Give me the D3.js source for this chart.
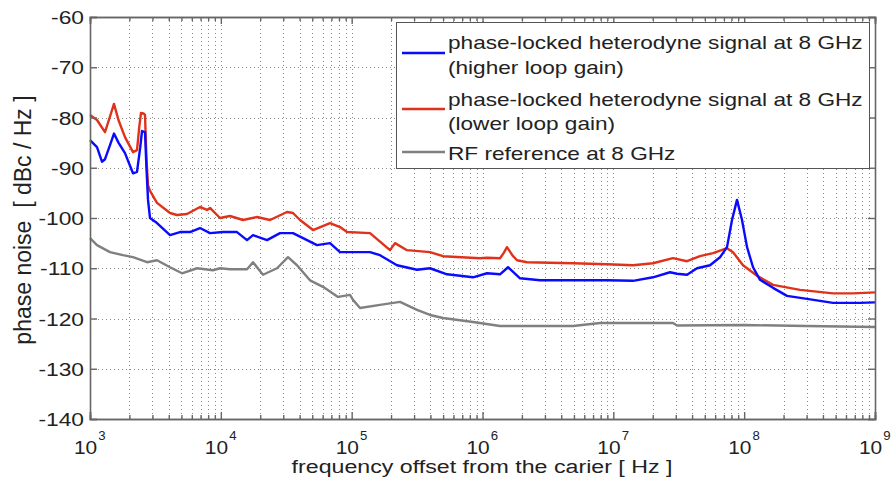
<!DOCTYPE html>
<html>
<head>
<meta charset="utf-8">
<script src="https://cdn.jsdelivr.net/npm/d3@7"></script>
<style>
  body { margin: 0; background: #fff; }
  text { font-family: "Liberation Sans", Arial, sans-serif; fill: #222; }
</style>
</head>
<body>
<div id="chart"></div>
<script>
// plot box inside the 891x483 page
var width = 891,
    height = 483,
    margin = {top: 17, right: 16, bottom: 64, left: 90}
var innerW = width - margin.left - margin.right,
    innerH = height - margin.top - margin.bottom

// values
var freqHigh = [1000, 1131, 1235, 1302, 1422, 1525, 1650, 1851, 2131, 2287, 2420, 2497, 2633, 2700, 2776, 2875, 3252, 4088, 4875, 5811, 6932, 8266, 10390, 13290, 15850, 17620, 22540, 28340, 35610, 42480, 54340, 68320, 81450, 97120, 138100, 164700, 222100, 315800, 397000, 535600, 846300, 1.083e6, 1.361e6, 1.567e6, 1.936e6, 2.752e6, 8.948e6, 1.414e7, 2.011e7, 2.712e7, 3.068e7, 3.658e7, 4.362e7, 5.483e7, 6.539e7, 7.394e7, 8.074e7, 8.816e7, 9.627e7, 1.052e8, 1.169e8, 1.322e8, 1.662e8, 2.126e8, 3.023e8, 4.777e8, 7.681e8, 1e9]
var noiseHigh = [-84.5, -85.9, -88.8, -88.3, -85.5, -83.2, -85, -87.1, -91.1, -90.8, -86, -82.7, -82.9, -90, -96.4, -100, -101, -103.4, -102.8, -102.8, -102, -103, -102.8, -102.8, -104.4, -103.4, -104.4, -103, -103, -104, -105.4, -105, -106.8, -106.8, -106.8, -107.4, -109.4, -110.3, -110, -111.2, -111.8, -111, -111.2, -109.8, -112, -112.4, -112.4, -112.5, -111.8, -110.8, -111.1, -111.3, -110, -109.4, -107.8, -105.8, -100.4, -96.4, -100.4, -105.8, -109.8, -112.3, -113.9, -115.5, -116.1, -116.9, -116.9, -116.8]

var freqLow = [1000, 1131, 1302, 1422, 1525, 1650, 1851, 2131, 2287, 2380, 2454, 2560, 2633, 2700, 2776, 2875, 3252, 4088, 4624, 5513, 6932, 7840, 8266, 9856, 11750, 14770, 18900, 23770, 32050, 35610, 40280, 50650, 68320, 81450, 92140, 138100, 196400, 214500, 264800, 397000, 499200, 957200, 1.083e6, 1.361e6, 1.45e6, 1.539e6, 1.7e6, 1.836e6, 2.189e6, 4.918e6, 8.948e6, 1.414e7, 2.011e7, 2.859e7, 3.658e7, 4.597e7, 5.781e7, 7.394e7, 8.217e7, 9.799e7, 1.254e8, 1.662e8, 2.673e8, 4.777e8, 6.792e8, 1e9]
var noiseLow = [-79.5, -80.5, -82.9, -79.8, -77.3, -80.5, -83.9, -86.9, -86.5, -81.9, -79.1, -79.2, -79.5, -88, -93.5, -94.6, -97, -99, -99.4, -99.2, -97.8, -98.4, -98, -100, -99.6, -100.4, -99.8, -100.4, -98.8, -99, -100.4, -102.4, -101, -101.8, -102.8, -103, -106.4, -105, -106.4, -106.8, -107.6, -108, -107.9, -108, -107, -105.8, -107.5, -108.4, -108.8, -109, -109.2, -109.4, -109, -108, -108.6, -107.6, -107, -106, -106.8, -109.4, -111.5, -113.3, -114.3, -115, -115, -114.8]

var freqRef = [1000, 1131, 1422, 1787, 2131, 2728, 3252, 4088, 5049, 6575, 8712, 9856, 11750, 15850, 17620, 21000, 26880, 32620, 38210, 48040, 60390, 78630, 97120, 102400, 115800, 164700, 234200, 315800, 397000, 499200, 846300, 1.361e6, 4.918e6, 7.911e6, 2.859e7, 3.068e7, 1e8, 3e8, 1e9]
var noiseRef = [-104, -105.4, -106.8, -107.4, -107.8, -108.8, -108.4, -109.8, -111, -110, -110.4, -110, -110.2, -110.2, -108.8, -111.3, -110, -107.8, -109.4, -112.4, -113.7, -115.7, -115.3, -116.3, -117.9, -117.3, -116.7, -118.3, -119.3, -119.9, -120.7, -121.5, -121.5, -120.9, -120.9, -121.4, -121.3, -121.5, -121.7]

var yTicks = [-60, -70, -80, -90, -100, -110, -120, -130, -140]
var xDecades = [1e3, 1e4, 1e5, 1e6, 1e7, 1e8, 1e9]
var xExponents = ["3", "4", "5", "6", "7", "8", "9"]

var seriesNames = ["phase-locked heterodyne signal at 8 GHz|(higher loop gain)",
                   "phase-locked heterodyne signal at 8 GHz|(lower loop gain)",
                   "RF reference at 8 GHz"]
var seriesColors = ["#0a0aff", "#e0321a", "#808080"]

var svg = d3.select("#chart")
    .append("svg")
        .attr("width", width)
        .attr("height", height)

var g = svg.append("g")
    .attr("transform", "translate(" + margin.left + "," + margin.top + ")")

var x = d3.scaleLog().domain([1e3, 1e9]).range([0, innerW])
var y = d3.scaleLinear().domain([-140, -60]).range([innerH, 0])

// minor decade values 2..9 for the log grid
var minorTicks = []
xDecades.slice(0, -1).forEach(function(d) {
    for (var k = 2; k <= 9; k++) minorTicks.push(d * k)
})

// dotted grid
var grid = g.append("g").attr("stroke", "#8a8a8a").attr("stroke-width", 1)
    .attr("stroke-dasharray", "1,3")
grid.selectAll(".gx").data(xDecades.concat(minorTicks)).enter().append("line")
    .attr("x1", function(d) { return Math.round(x(d)) + 0.5 })
    .attr("x2", function(d) { return Math.round(x(d)) + 0.5 })
    .attr("y1", 0).attr("y2", innerH)
grid.selectAll(".gy").data(yTicks).enter().append("line")
    .attr("y1", function(d) { return Math.round(y(d)) + 0.5 })
    .attr("y2", function(d) { return Math.round(y(d)) + 0.5 })
    .attr("x1", 0).attr("x2", innerW)

// legend box sits over the grid
var lg = svg.append("g")
lg.append("rect")
    .attr("x", 396.5).attr("y", 22.5).attr("width", 473).attr("height", 146)
    .attr("fill", "#fff").attr("stroke", "#555").attr("stroke-width", 1)

// curves
var line = d3.line()
    .x(function(d) { return x(d[0]) })
    .y(function(d) { return y(d[1]) })

var series = [
    d3.zip(freqHigh, noiseHigh),
    d3.zip(freqLow, noiseLow),
    d3.zip(freqRef, noiseRef)
]
// draw reference first, then red, then blue on top
g.selectAll(".curve").data([2, 1, 0]).enter().append("path")
    .attr("d", function(i) { return line(series[i]) })
    .attr("fill", "none")
    .attr("stroke", function(i) { return seriesColors[i] })
    .attr("stroke-width", 2.4)
    .attr("stroke-linejoin", "round")

// axes: matlab style, ticks pointing inside on all four sides
var axisColor = "#666"
var tickSize = 7, minorSize = 4

var axBottom = g.append("g").attr("transform", "translate(0," + innerH + ")")
    .call(d3.axisBottom(x).tickValues(xDecades).tickSize(-tickSize).tickFormat(""))
var axTop = g.append("g")
    .call(d3.axisTop(x).tickValues(xDecades).tickSize(-tickSize).tickFormat(""))
var axBottomMinor = g.append("g").attr("transform", "translate(0," + innerH + ")")
    .call(d3.axisBottom(x).tickValues(minorTicks).tickSize(-minorSize).tickFormat(""))
var axTopMinor = g.append("g")
    .call(d3.axisTop(x).tickValues(minorTicks).tickSize(-minorSize).tickFormat(""))
var axLeft = g.append("g")
    .call(d3.axisLeft(y).tickValues(yTicks).tickSize(-tickSize).tickFormat(""))
var axRight = g.append("g").attr("transform", "translate(" + innerW + ",0)")
    .call(d3.axisRight(y).tickValues(yTicks).tickSize(-tickSize).tickFormat(""))

;[axBottom, axTop, axBottomMinor, axTopMinor, axLeft, axRight].forEach(function(a) {
    a.selectAll("path").attr("stroke", axisColor).attr("stroke-width", 1.6)
    a.selectAll("line").attr("stroke", axisColor).attr("stroke-width", 1.4)
})

// tick labels (text in the source is a little wide, so stretch it)
var sx = 1.2
g.selectAll(".ylab").data(yTicks).enter().append("text")
    .attr("transform", function(d) { return "translate(-6," + (y(d) + 7) + ") scale(" + sx + ",1)" })
    .attr("text-anchor", "end")
    .style("font-size", "19px")
    .text(function(d) { return d })

var xl = g.selectAll(".xlab").data(xDecades).enter().append("text")
    .attr("transform", function(d) { return "translate(" + (x(d) - 16) + "," + (innerH + 35) + ") scale(1.1,1)" })
    .style("font-size", "19px")
xl.append("tspan").text("10")
xl.append("tspan").attr("dy", -14).attr("dx", 1).style("font-size", "12px")
    .text(function(d, i) { return xExponents[i] })

// axis titles
svg.append("text")
    .attr("transform", "translate(482,473) scale(1.22,1)")
    .attr("text-anchor", "middle")
    .style("font-size", "19px")
    .text("frequency offset from the carier [ Hz ]")

svg.append("text")
    .attr("transform", "translate(31,220) rotate(-90)")
    .attr("text-anchor", "middle")
    .style("font-size", "23px")
    .style("white-space", "pre")
    .text("phase noise  [ dBc / Hz ]")

// legend entries
var legendLineY = [53, 109, 152]
var legendTextY = [[49, 74], [106, 130], [160]]
seriesNames.forEach(function(name, i) {
    lg.append("line")
        .attr("x1", 402).attr("x2", 445)
        .attr("y1", legendLineY[i]).attr("y2", legendLineY[i])
        .attr("stroke", seriesColors[i]).attr("stroke-width", 2.4)
    name.split("|").forEach(function(part, j) {
        lg.append("text")
            .attr("transform", "translate(448," + legendTextY[i][j] + ") scale(1.19,1)")
            .style("font-size", "19px")
            .text(part)
    })
})
</script>
</body>
</html>
